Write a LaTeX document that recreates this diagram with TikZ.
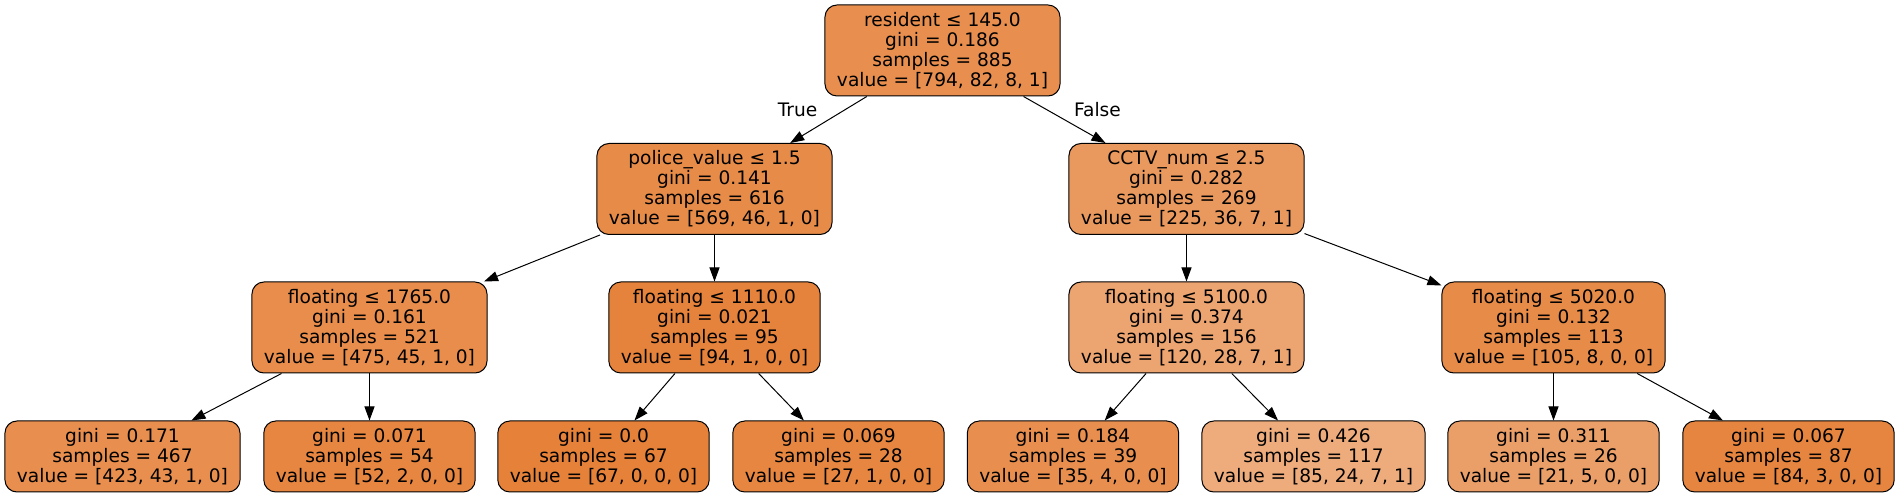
\documentclass[tikz,border=0pt]{standalone}
\usepackage{fontspec}
\setmainfont{DejaVu Sans}
\usepackage{tikz}
\usetikzlibrary{arrows.meta}
\definecolor{n885}{RGB}{232,143,79}
\definecolor{n616}{RGB}{231,139,73}
\definecolor{n269}{RGB}{234,153,94}
\definecolor{n521}{RGB}{232,141,76}
\definecolor{n95}{RGB}{229,130,59}
\definecolor{n156}{RGB}{236,164,113}
\definecolor{n113}{RGB}{231,139,72}
\definecolor{n467}{RGB}{232,142,78}
\definecolor{n54}{RGB}{230,134,65}
\definecolor{n67}{RGB}{229,129,57}
\definecolor{n28}{RGB}{230,134,64}
\definecolor{n39}{RGB}{232,143,80}
\definecolor{n117}{RGB}{238,172,125}
\definecolor{n26}{RGB}{235,159,104}
\definecolor{n87}{RGB}{230,133,64}
\newcommand\treefont{\fontsize{18.6}{20}\selectfont}
\tikzstyle{split}=[draw,line width=1pt,rounded corners=12pt,align=center,font=\treefont,inner xsep=12pt,minimum height=91pt]
\tikzstyle{leaf}=[split,minimum height=71pt]
\tikzstyle{edge}=[line width=1pt,-{Triangle[length=14pt,width=10pt]}]
\tikzstyle{lab}=[font=\treefont,inner sep=0pt]

\begin{document}
\begin{tikzpicture}[x=1pt,y=1pt]
	\useasboundingbox (0,0) rectangle (1899,497);
	\node[split,fill=n885] (root) at (942.5,446.5) {resident ≤ 145.0\\gini = 0.186\\samples = 885\\value = [794, 82, 8, 1]};
	%
	\node[split,fill=n616] (police) at (714.5,308) {police\_value ≤ 1.5\\gini = 0.141\\samples = 616\\value = [569, 46, 1, 0]};
	\node[split,fill=n269] (cctv) at (1186.5,308) {CCTV\_num ≤ 2.5\\gini = 0.282\\samples = 269\\value = [225, 36, 7, 1]};
	%
	\node[split,fill=n521] (fl1765) at (369.5,169.5) {floating ≤ 1765.0\\gini = 0.161\\samples = 521\\value = [475, 45, 1, 0]};
	\node[split,fill=n95] (fl1110) at (714.5,169.5) {floating ≤ 1110.0\\gini = 0.021\\samples = 95\\value = [94, 1, 0, 0]};
	\node[split,fill=n156] (fl5100) at (1186.5,169.5) {floating ≤ 5100.0\\gini = 0.374\\samples = 156\\value = [120, 28, 7, 1]};
	\node[split,fill=n113] (fl5020) at (1553.5,169.5) {floating ≤ 5020.0\\gini = 0.132\\samples = 113\\value = [105, 8, 0, 0]};
	%
	\node[leaf,fill=n467] (lf467) at (122.5,40.5) {gini = 0.171\\samples = 467\\value = [423, 43, 1, 0]};
	\node[leaf,fill=n54] (lf54) at (369.5,40.5) {gini = 0.071\\samples = 54\\value = [52, 2, 0, 0]};
	\node[leaf,fill=n67] (lf67) at (603.5,40.5) {gini = 0.0\\samples = 67\\value = [67, 0, 0, 0]};
	\node[leaf,fill=n28] (lf28) at (838.5,40.5) {gini = 0.069\\samples = 28\\value = [27, 1, 0, 0]};
	\node[leaf,fill=n39] (lf39) at (1073,40.5) {gini = 0.184\\samples = 39\\value = [35, 4, 0, 0]};
	\node[leaf,fill=n117] (lf117) at (1313.5,40.5) {gini = 0.426\\samples = 117\\value = [85, 24, 7, 1]};
	\node[leaf,fill=n26] (lf26) at (1553.5,40.5) {gini = 0.311\\samples = 26\\value = [21, 5, 0, 0]};
	\node[leaf,fill=n87] (lf87) at (1788.5,40.5) {gini = 0.067\\samples = 87\\value = [84, 3, 0, 0]};
	%
	\node[lab] (true) at (797.5,387) {True};
	\node[lab] (false) at (1097.5,387) {False};
%
	\draw[edge] (root) -- (police);
	\draw[edge] (root) -- (cctv);
	\draw[edge] (police) -- (fl1765);
	\draw[edge] (police) -- (fl1110);
	\draw[edge] (cctv) -- (fl5100);
	\draw[edge] (cctv) -- (fl5020);
	\draw[edge] (fl1765) -- (lf467);
	\draw[edge] (fl1765) -- (lf54);
	\draw[edge] (fl1110) -- (lf67);
	\draw[edge] (fl1110) -- (lf28);
	\draw[edge] (fl5100) -- (lf39);
	\draw[edge] (fl5100) -- (lf117);
	\draw[edge] (fl5020) -- (lf26);
	\draw[edge] (fl5020) -- (lf87);
\end{tikzpicture}
\end{document}
